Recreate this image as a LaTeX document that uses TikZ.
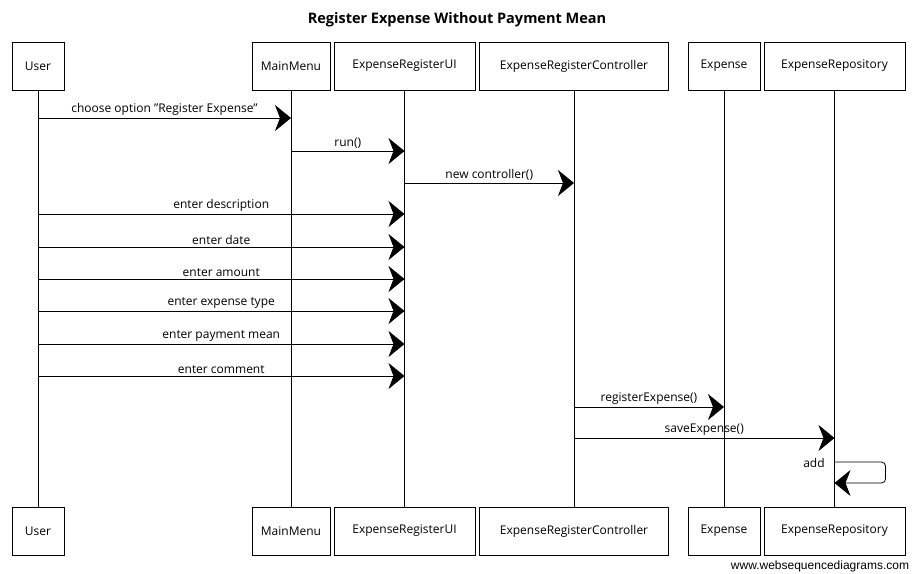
\documentclass[tikz,border=0pt]{standalone}
\usepackage{fontspec}
\setmainfont{Open Sans}
\newfontfamily\wsdfont{Liberation Sans}
\usetikzlibrary{arrows.meta, positioning, calc}

\begin{document}
\begin{tikzpicture}[
  x=1pt, y=-1pt,
  actor/.style={draw, line width=0.8pt, minimum height=48pt, inner sep=0pt, font=\fontsize{12}{14}\selectfont},
  msg/.style={-{Stealth[length=16pt, width=26pt, inset=5pt]}, line width=0.8pt},
  lifeline/.style={line width=0.6pt},
  lbl/.style={above, inner sep=2pt, font=\fontsize{12}{14}\selectfont}
]
  \useasboundingbox (0,0) rectangle (915,573);
  \node[font=\bfseries\fontsize{14.5}{17}\selectfont] (title) at (457,20) {Register Expense Without Payment Mean};

  % participants, top
  \node[actor, minimum width=52pt] (user) at (38,66) {User};
  \node[actor, minimum width=78pt] (menu) at (291,66) {MainMenu};
  \node[actor, minimum width=141pt] (ui) at (404.5,66) {ExpenseRegisterUI};
  \node[actor, minimum width=189pt] (ctrl) at (574,66) {ExpenseRegisterController};
  \node[actor, minimum width=72pt] (exp) at (724,66) {Expense};
  \node[actor, minimum width=141pt] (repo) at (834.5,66) {ExpenseRepository};

  % participants, bottom
  \node[actor, minimum width=52pt] (userB) at (38,531) {User};
  \node[actor, minimum width=78pt] (menuB) at (291,531) {MainMenu};
  \node[actor, minimum width=141pt] (uiB) at (404.5,531) {ExpenseRegisterUI};
  \node[actor, minimum width=189pt] (ctrlB) at (574,531) {ExpenseRegisterController};
  \node[actor, minimum width=72pt] (expB) at (724,531) {Expense};
  \node[actor, minimum width=141pt] (repoB) at (834.5,531) {ExpenseRepository};

  % lifelines
  \foreach \p in {user, menu, ui, ctrl, exp, repo}
    \draw[lifeline] (\p) -- (\p B);

  % messages
  \draw[msg] (user |- 0,118) -- node[lbl] {choose option "Register Expense"} (menu |- 0,118);
  \draw[msg] (menu |- 0,151) -- node[lbl] {run()} (ui |- 0,151);
  \draw[msg] (ui |- 0,183) -- node[lbl] {new controller()} (ctrl |- 0,183);
  \draw[msg] (user |- 0,214) -- node[lbl] {enter description} (ui |- 0,214);
  \draw[msg] (user |- 0,247) -- node[lbl] {enter date} (ui |- 0,247);
  \draw[msg] (user |- 0,279) -- node[lbl] {enter amount} (ui |- 0,279);
  \draw[msg] (user |- 0,311) -- node[lbl] {enter expense type} (ui |- 0,311);
  \draw[msg] (user |- 0,344) -- node[lbl] {enter payment mean} (ui |- 0,344);
  \draw[msg] (user |- 0,376) -- node[lbl] {enter comment} (ui |- 0,376);
  \draw[msg] (ctrl |- 0,407) -- node[lbl] {registerExpense()} (exp |- 0,407);
  \draw[msg] (ctrl |- 0,438) -- node[lbl] {saveExpense()} (repo |- 0,438);
  \draw[msg, rounded corners=4pt] (repo |- 0,462) -- ++(51,0) -- ++(0,21) -- (repo |- 0,483);
  \node[font=\fontsize{12}{14}\selectfont] (addlbl) at (814,463) {add};

  \node[font=\wsdfont\fontsize{12}{14}\selectfont] (wsd) at (820,566) {www.websequencediagrams.com};
\end{tikzpicture}
\end{document}
